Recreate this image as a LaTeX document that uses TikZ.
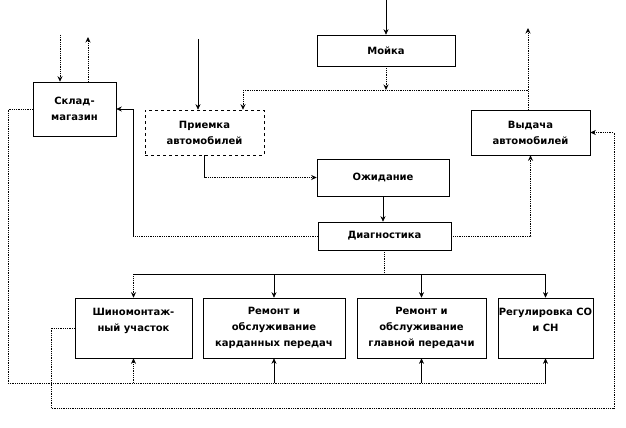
\documentclass[tikz,border=0pt]{standalone}
\usepackage{fontspec}
\setmainfont{DejaVu Sans}
\usetikzlibrary{arrows.meta}
\begin{document}
\begin{tikzpicture}[x=1pt,y=-1pt,line width=0.6pt,
    >={Stealth[length=5.5pt,width=5pt]},
    block/.style={draw,inner sep=1pt,align=center,
      font=\bfseries\fontsize{10}{16}\selectfont},
    dots/.style={densely dotted,line width=0.8pt}]
    \useasboundingbox (0,0) rectangle (626,428);
    % blocks
    \node[block,minimum width=83pt,minimum height=54pt] (sklad) at (74.5,109) {Склад-\\магазин};
    \node[block,dashed,minimum width=119pt,minimum height=45pt] (priemka) at (204.5,132.5) {Приемка\\автомобилей};
    \node[block,minimum width=138pt,minimum height=31pt] (mojka) at (386,50.5) {Мойка};
    \node[block,minimum width=119pt,minimum height=45pt] (vydacha) at (530.5,132.5) {Выдача\\автомобилей};
    \node[block,minimum width=132pt,minimum height=37pt] (ozhid) at (383,177.5) {Ожидание};
    \node[block,minimum width=133pt,minimum height=28pt] (diagn) at (384.5,236) {Диагностика};
    \node[block,minimum width=117pt,minimum height=60pt] (shin) at (133.5,328) {Шиномонтаж-\\ный участок\\ \mbox{}};
    \node[block,minimum width=142pt,minimum height=60pt] (kardan) at (274,328) {Ремонт и\\обслуживание\\карданных передач};
    \node[block,minimum width=129pt,minimum height=60pt] (glavn) at (421.5,328) {Ремонт и\\обслуживание\\главной передачи};
    \node[block,minimum width=95pt,minimum height=60pt] (regul) at (545.5,328) {Регулировка СО\\и СН\\ \mbox{}};
    % free ends
    \coordinate (skladin) at (60,35);
    \coordinate (skladout) at (88,37);
    \coordinate (mojkain) at (386,0);
    \coordinate (priemin) at (198,39);
    \coordinate (vydout) at (528,28);
    % sklad
    \draw[dots,->] (skladin) -- (sklad.north -| skladin);
    \draw[dots,->] (sklad.north -| skladout) -- (skladout);
    \coordinate (c1) at (133,236);
    \draw[dots] (diagn.west) -- (c1);
    \draw[->] (c1) |- (sklad.east);
    % parts to the posts
    \coordinate (bl) at (8,383);
    \coordinate (br) at (546,383);
    \draw[dots] (sklad.west) -| (bl) -- (br);
    \draw[dots,->] (shin.south |- bl) -- (shin.south);
    \draw[->] (kardan.south |- bl) -- (kardan.south);
    \draw[->] (glavn.south |- bl) -- (glavn.south);
    \draw[->] (regul.south |- bl) -- (regul.south);
    % return to vydacha
    \coordinate (rl) at (51,408);
    \coordinate (rr) at (614,408);
    \draw[dots,->] (shin.west) -| (rl) -- (rr) |- (vydacha.east);
    % mojka
    \draw[->] (mojkain) -- (mojka.north);
    \coordinate (m1) at (386,90);
    \coordinate (hl) at (243,90);
    \coordinate (hr) at (528,90);
    \draw[dots,->] (mojka.south) -- (m1);
    \draw[dots] (hl) -- (hr);
    \draw[dots,->] (hl) -- (priemka.north -| hl);
    \draw[dots,->] (vydacha.north -| hr) -- (vydout);
    % priemka -> ozhidanie -> diagnostika
    \draw[->] (priemin) -- (priemka.north -| priemin);
    \coordinate (p1) at (priemka.south |- ozhid.west);
    \draw (priemka.south) -- (p1);
    \draw[dots,->] (p1) -- (ozhid.west);
    \draw[->] (ozhid.south) -- (ozhid.south |- diagn.north);
    \draw[dots,->] (diagn.east) -| (vydacha.south);
    % diagnostika to the posts
    \draw[dots] (diagn.south) -- ++(0,24) coordinate (d1);
    \draw (shin.north |- d1) -- (regul.north |- d1);
    \draw[dots,->] (shin.north |- d1) -- (shin.north);
    \draw[->] (kardan.north |- d1) -- (kardan.north);
    \draw[->] (glavn.north |- d1) -- (glavn.north);
    \draw[->] (regul.north |- d1) -- (regul.north);
\end{tikzpicture}
\end{document}
